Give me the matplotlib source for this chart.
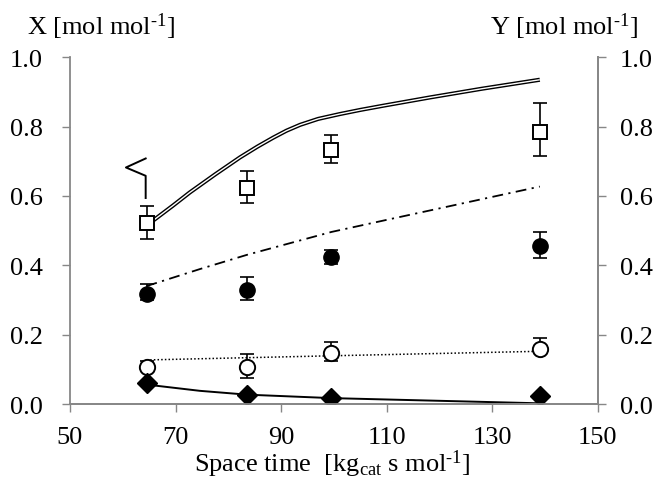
import matplotlib

matplotlib.use("Agg")

import matplotlib.pyplot as plt

plt.rcParams["font.family"] = ["Liberation Serif", "DejaVu Serif"]
plt.rcParams["mathtext.fontset"] = "custom"
plt.rcParams["mathtext.rm"] = "Liberation Serif"
plt.rcParams["mathtext.it"] = "Liberation Serif:italic"

# measured points (space time)
space_time = [64.5, 83.5, 99.5, 139.0]

x_conv = [0.522, 0.624, 0.732, 0.783]
x_conv_lo = [0.475, 0.581, 0.695, 0.714]
x_conv_hi = [0.571, 0.672, 0.775, 0.867]

y_filled = [0.317, 0.329, 0.423, 0.456]
y_filled_lo = [0.300, 0.300, 0.403, 0.420]
y_filled_hi = [0.346, 0.367, 0.445, 0.495]

y_open = [0.107, 0.106, 0.146, 0.160]
y_open_lo = [0.100, 0.074, 0.125, 0.150]
y_open_hi = [0.125, 0.144, 0.178, 0.190]

y_diamond = [0.060, 0.027, 0.016, 0.022]

# model curves
model_conv_t = [64.5, 66.1, 69.5, 72.7, 77.5, 82.2, 85.5, 88.5, 91.0, 93.6, 97.0,
                101.1, 105.0, 109.3, 118.2, 128.0, 139.0]
model_conv = [0.515, 0.533, 0.572, 0.610, 0.662, 0.711, 0.742, 0.768, 0.788, 0.805, 0.822,
              0.836, 0.848, 0.860, 0.884, 0.909, 0.935]

model_filled_t = [64.5, 74.6, 83.5, 99.5, 110.6, 139.0]
model_filled = [0.340, 0.389, 0.430, 0.496, 0.533, 0.627]

model_open_t = [64.5, 99.5, 139.0]
model_open = [0.127, 0.139, 0.152]

model_diamond_t = [64.5, 74.6, 83.5, 99.5, 139.0]
model_diamond = [0.056, 0.038, 0.027, 0.017, 0.002]

# left-axis pointer
pointer_x = [64.34, 64.34, 60.6, 64.34]
pointer_y = [0.594, 0.658, 0.682, 0.708]

x_ticks = [50, 70, 90, 110, 130, 150]
y_ticks = [0.0, 0.2, 0.4, 0.6, 0.8, 1.0]

spine_col = "#878787"
fs = 19
sup = "$^{\\mathregular{\u20101}}$"


def _err(vals, lo, hi):
    return [[v - l for v, l in zip(vals, lo)], [h - v for v, h in zip(vals, hi)]]


fig = plt.figure(figsize=(6.57, 4.81), dpi=100)
ax = fig.add_axes([0.1065, 0.158, 0.8035, 0.721])

# model lines
ax.plot(model_conv_t, model_conv, color="black", lw=3.0, solid_capstyle="butt",
        solid_joinstyle="round", zorder=2)
ax.plot(model_conv_t, model_conv, color="white", lw=1.0, solid_capstyle="butt",
        solid_joinstyle="round", zorder=2.1)
ax.plot(model_filled_t, model_filled, color="black", lw=1.3, linestyle=(0, (6, 3, 1.2, 3)), zorder=2)
ax.plot(model_open_t, model_open, color="black", lw=1.1, linestyle=(0, (1, 1.4)), zorder=2)
ax.plot(model_diamond_t, model_diamond, color="black", lw=1.4, zorder=2)

ebkw = dict(fmt="none", ecolor="black", elinewidth=1.2, capsize=5, capthick=1.2, zorder=3)
ax.errorbar(space_time, x_conv, yerr=_err(x_conv, x_conv_lo, x_conv_hi), **ebkw)
ax.errorbar(space_time, y_filled, yerr=_err(y_filled, y_filled_lo, y_filled_hi), **ebkw)
ax.errorbar(space_time, y_open, yerr=_err(y_open, y_open_lo, y_open_hi), **ebkw)

ax.plot(space_time, x_conv, "s", ms=10.5, mfc="white", mec="black", mew=1.4, zorder=4)
ax.plot(space_time, y_filled, "o", ms=11, mfc="black", mec="black", zorder=4)
ax.plot(space_time, y_open, "o", ms=11, mfc="white", mec="black", mew=1.4, zorder=4)
ax.plot(space_time, y_diamond, "D", ms=10.5, mfc="black", mec="black", zorder=4)

ax.plot(pointer_x, pointer_y, color="black", lw=1.4, zorder=3)

ax.set_xlim(50, 150)
ax.set_ylim(0, 1)
ax.set_xticks(x_ticks)
ax.set_yticks(y_ticks)
ax.set_yticklabels([f"{v:.1f}" for v in y_ticks])

ax2 = ax.twinx()
ax2.set_ylim(0, 1)
ax2.set_yticks(y_ticks)
ax2.set_yticklabels([f"{v:.1f}" for v in y_ticks])

for a in (ax, ax2):
    a.spines["top"].set_visible(False)
    for s in ("left", "right", "bottom"):
        a.spines[s].set_color(spine_col)
        a.spines[s].set_linewidth(1.3)
    a.tick_params(direction="out", length=6, width=1.0, color=spine_col,
                  labelsize=fs, labelcolor="black")
ax2.spines["left"].set_visible(False)
ax.tick_params(axis="y", pad=13.5)
ax.tick_params(axis="x", pad=10)
ax2.tick_params(axis="y", pad=10)

fig.text(0.041, 0.944, "X [mol mol" + sup + "]", fontsize=fs, ha="left", va="center")
fig.text(0.971, 0.944, "Y [mol mol" + sup + "]", fontsize=fs, ha="right", va="center")
fig.text(0.505, 0.034, r"Space time  [kg$_{\mathregular{cat}}$ s mol" + sup + "]",
         fontsize=fs, ha="center", va="center")

fig.savefig("out.png", dpi=100)
